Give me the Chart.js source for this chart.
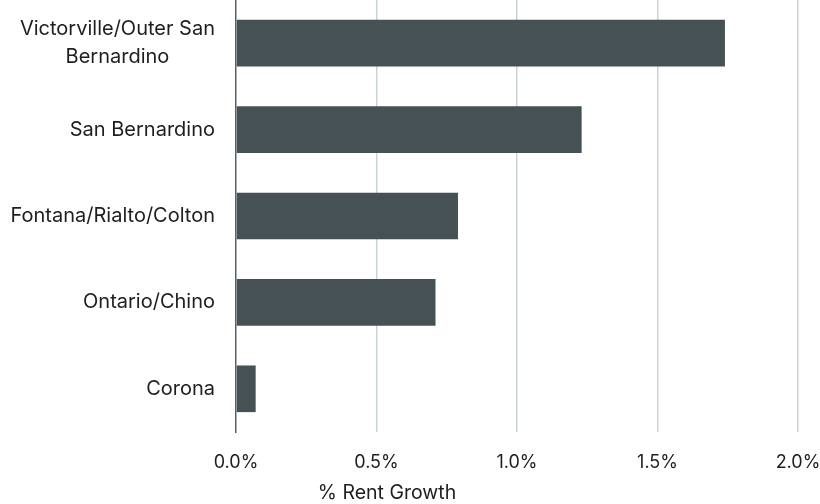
<!DOCTYPE html>
<html>
<head>
<meta charset="utf-8">
<script src="https://cdn.jsdelivr.net/npm/chart.js@4"></script>
<style>
  body { margin: 0; background: #fff; }
  #wrap { width: 820px; height: 504px; }
</style>
</head>
<body>
<div id="wrap"><canvas id="myChart"></canvas></div>
<script>
// Submercados y crecimiento de renta (%)
const submercados = [
    ['Victorville/Outer San', 'Bernardino'],
    ['San Bernardino'],
    ['Fontana/Rialto/Colton'],
    ['Ontario/Chino'],
    ['Corona']
];
const crecimientoRenta = [1.74, 1.23, 0.79, 0.71, 0.07];
const ticksX = [0, 0.5, 1.0, 1.5, 2.0];
const tituloX = '% Rent Growth';

const fuente = 'Inter, "Noto Sans", sans-serif';
const colorTexto = '#1e1e1e';

// Etiquetas del eje Y (bloque a la derecha, líneas centradas entre sí) y título del eje X
const textosEjes = {
    id: 'textosEjes',
    afterDraw(chart) {
        const ctx = chart.ctx;
        const y = chart.scales.y;
        ctx.save();
        ctx.fillStyle = colorTexto;
        ctx.textAlign = 'center';
        ctx.textBaseline = 'middle';
        ctx.font = '20px ' + fuente;
        const lineH = 28;
        submercados.forEach((lineas, i) => {
            const w = Math.max(...lineas.map(l => ctx.measureText(l).width));
            const cx = y.right - 21 - w / 2;
            const cy = y.getPixelForTick(i);
            const y0 = cy - (lineas.length - 1) * lineH / 2;
            lineas.forEach((l, k) => ctx.fillText(l, cx, y0 + k * lineH));
        });
        ctx.font = '19.5px ' + fuente;
        ctx.textBaseline = 'alphabetic';
        ctx.fillText(tituloX, 387, 499);
        ctx.restore();
    }
};

let myChart;

function crearGrafico() {
    const ctx = document.getElementById('myChart').getContext('2d');
    myChart = new Chart(ctx, {
        type: 'bar',
        data: {
            labels: submercados,
            datasets: [{
                data: crecimientoRenta,
                backgroundColor: '#465155',
                borderWidth: 0,
                barPercentage: 0.54,
                categoryPercentage: 1
            }]
        },
        options: {
            indexAxis: 'y',
            responsive: true,
            maintainAspectRatio: false,
            animation: false,
            layout: { padding: 0 },
            plugins: {
                legend: { display: false },
                tooltip: { enabled: false }
            },
            scales: {
                x: {
                    min: 0,
                    max: 2,
                    afterBuildTicks: s => { s.ticks = ticksX.map(v => ({ value: v })); },
                    afterFit: s => {
                        s.height = 72;
                        s.paddingLeft = 0;
                        s.paddingRight = 22;
                    },
                    border: { display: false },
                    grid: {
                        color: c => c.tick && c.tick.value === 0 ? 'rgba(0,0,0,0)' : '#cad3d6',
                        lineWidth: 1.5,
                        drawTicks: false
                    },
                    ticks: {
                        padding: 20,
                        color: colorTexto,
                        font: { family: fuente, size: 18 },
                        callback: v => v.toFixed(1) + '%'
                    }
                },
                y: {
                    afterFit: s => { s.width = 236; },
                    border: { display: true, color: '#59606a', width: 1.5 },
                    grid: { display: false },
                    ticks: { display: false }
                }
            }
        },
        plugins: [textosEjes]
    });
}

crearGrafico();
</script>
</body>
</html>
